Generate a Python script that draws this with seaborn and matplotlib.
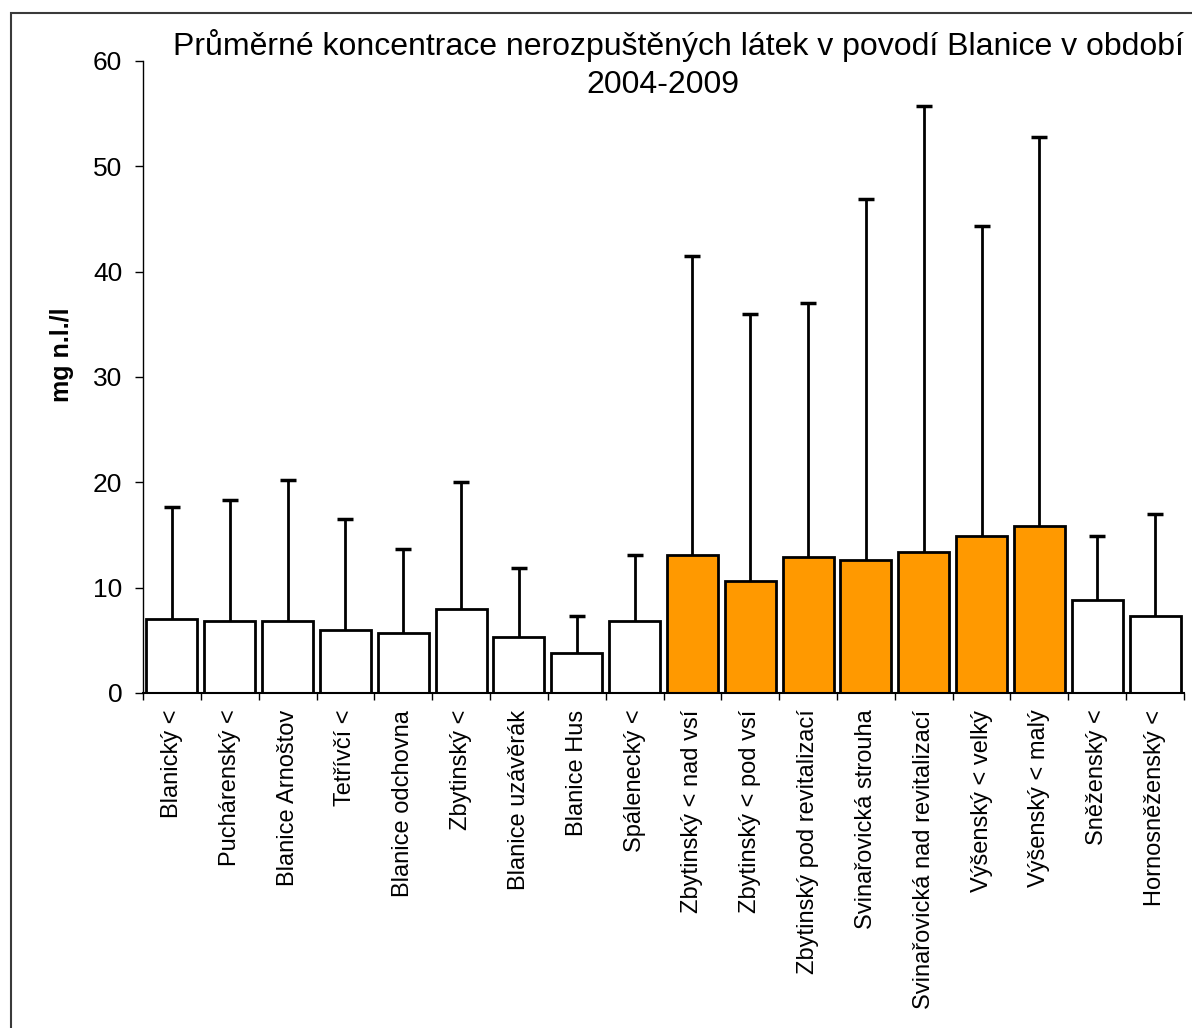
import numpy as np
import matplotlib
matplotlib.use("Agg")
import matplotlib.pyplot as plt
import seaborn as sns
from matplotlib.patches import Rectangle

# --- data ---
sites = [
    "Blanický <", "Puchárenský <", "Blanice Arnoštov", "Tetřívčí <",
    "Blanice odchovna", "Zbytinský <", "Blanice uzávěrák", "Blanice Hus",
    "Spálenecký <", "Zbytinský < nad vsí", "Zbytinský < pod vsí",
    "Zbytinský pod revitalizací", "Svinařovická strouha",
    "Svinařovická nad revitalizací", "Výšenský < velký", "Výšenský < malý",
    "Sněženský <", "Hornosněženský <",
]
means = [7.0, 6.8, 6.8, 6.0, 5.7, 8.0, 5.3, 3.8, 6.8,
         13.1, 10.6, 12.9, 12.6, 13.4, 14.9, 15.9, 8.8, 7.3]
upper = [17.7, 18.3, 20.2, 16.5, 13.7, 20.0, 11.9, 7.3, 13.1,
         41.5, 36.0, 37.0, 46.9, 55.7, 44.3, 52.8, 14.9, 17.0]
revitalized = [False] * 9 + [True] * 7 + [False] * 2
yticks = [0, 10, 20, 30, 40, 50, 60]

font = "Liberation Sans"
plt.rcParams["font.family"] = [font, "DejaVu Sans"]

W, H = 1192, 1028
fig = plt.figure(figsize=(W / 100, H / 100), dpi=100)
ax = fig.add_axes([143 / W, 1 - 693 / H, (1184 - 143) / W, (693 - 61) / H])

colors = ["#FF9900" if r else "white" for r in revitalized]
sns.barplot(x=sites, y=means, hue=sites, palette=colors, legend=False,
            saturation=1, width=0.88, edgecolor="black", linewidth=2.0,
            ax=ax, zorder=2)

# only the upper half of the error bars, like Excel
xs = np.arange(len(sites))
err = np.array(upper) - np.array(means)
eb = ax.errorbar(xs, means, yerr=[np.zeros(len(err)), err], fmt="none",
                 ecolor="black", elinewidth=2.0, capsize=6, capthick=2.5,
                 zorder=1)
eb.lines[1][0].set_visible(False)  # drop the cap sitting on the bar top

ax.set_xlim(-0.5, len(sites) - 0.5)
ax.set_ylim(0, 60)
ax.set_yticks(yticks)
ax.set_yticklabels([str(t) for t in yticks], fontsize=19)
ax.tick_params(axis="y", direction="out", length=6, width=1, pad=9)

# category ticks sit between bars
ax.set_xticks(xs)
ax.set_xticklabels(sites, rotation=90, fontsize=17, va="top", ha="center")
ax.tick_params(axis="x", which="major", length=0, pad=12)
ax.set_xticks(np.arange(-0.5, len(sites)), minor=True)
ax.tick_params(axis="x", which="minor", direction="out", length=5, width=1)

for s in ["top", "right"]:
    ax.spines[s].set_visible(False)
ax.spines["left"].set_linewidth(1)
ax.spines["bottom"].set_linewidth(1.5)
ax.set_xlabel("")
ax.set_ylabel("")
ax.set_facecolor("none")

fig.text(62 / W, 1 - 355 / H, "mg n.l./l", rotation=90, fontsize=18,
         fontweight="bold", ha="center", va="center")

fig.text(173 / W, 1 - 55 / H,
         "Průměrné koncentrace nerozpuštěných látek v povodí Blanice v období",
         fontsize=23, ha="left", va="baseline")
fig.text(663 / W, 1 - 93 / H, "2004-2009", fontsize=23, ha="center",
         va="baseline")

# chart frame, cut off at the right and bottom
fig.patches.append(Rectangle((11 / W, -0.05), 1.2, 1.05 - 13 / H,
                             transform=fig.transFigure, fill=False,
                             edgecolor="#3a3a3a", linewidth=1.5))

fig.savefig("out.png", dpi=100)
